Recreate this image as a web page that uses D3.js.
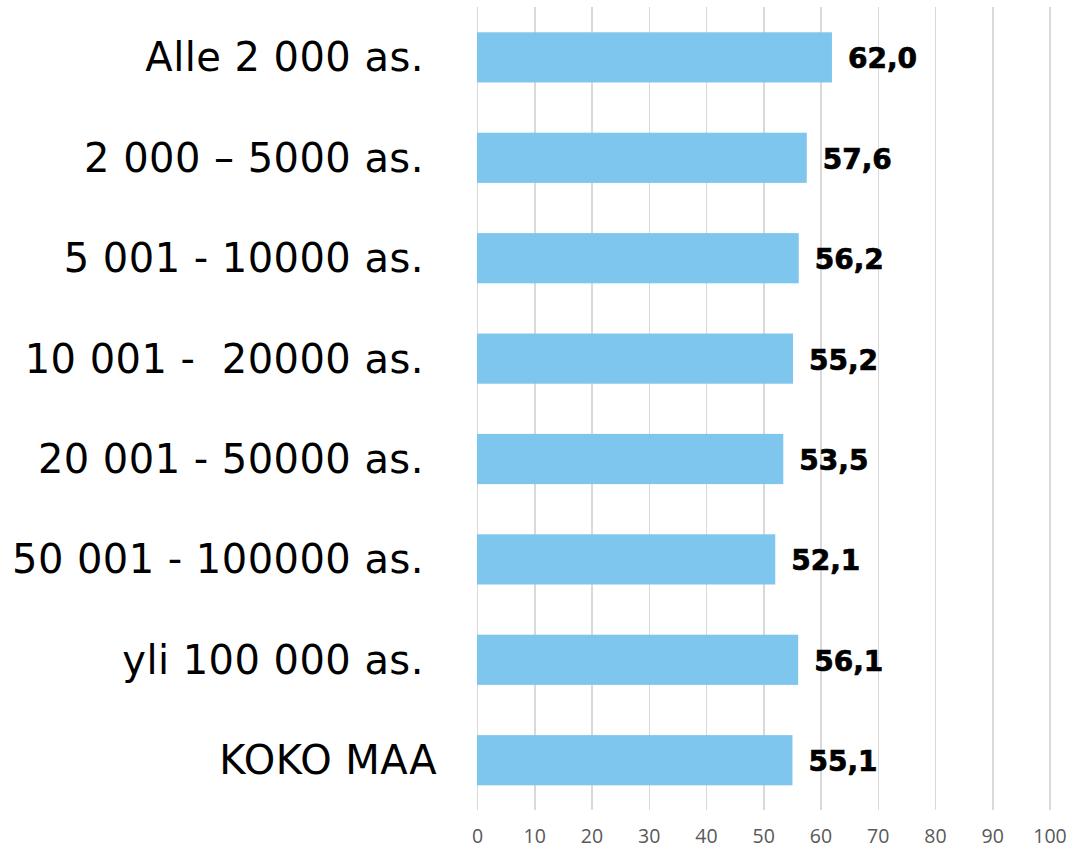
<!DOCTYPE html>
<html lang="fi">
<head>
<meta charset="UTF-8">
<title>Kuntakoko</title>
<script src="https://cdn.jsdelivr.net/npm/d3@7"></script>
<style>
    body { margin: 0; background: #fff; }
    .grid line { stroke: #d9d9d9; stroke-width: 1.5; shape-rendering: crispEdges; }
    .grid text { font-family: "Open Sans", sans-serif; font-size: 19.5px; fill: #595959; }
    .cat { font-family: "DejaVu Sans", sans-serif; font-size: 40px; fill: #000; white-space: pre; letter-spacing: 0.45px; }
    .val { font-family: "DejaVu Sans", sans-serif; font-weight: bold; font-size: 28px; fill: #000; stroke: #000; stroke-width: 0.7px; }
</style>
</head>
<body>
<script>
    var w = 1068;
    var h = 848;

    // luokat ylhaalta alas
    var categories = [
        "Alle 2 000 as. ",
        "2 000 \u2013 5000 as. ",
        "5 001 - 10000 as. ",
        "10 001 -  20000 as. ",
        "20 001 - 50000 as. ",
        "50 001 - 100000 as. ",
        "yli 100 000 as. ",
        "KOKO MAA"
    ];
    var values = [62.0, 57.6, 56.2, 55.2, 53.5, 52.1, 56.1, 55.1];
    var ticks = [0, 10, 20, 30, 40, 50, 60, 70, 80, 90, 100];

    var xScale = d3.scaleLinear()
        .domain([0, 100])
        .range([477, 1049.5]);

    var yScale = d3.scaleBand()
        .domain(categories)
        .range([7.2, 810.4])
        .paddingInner(0.5)
        .paddingOuter(0.25);

    var svg = d3.select("body")
        .append("svg")
        .attr("width", w)
        .attr("height", h);

    var xAxis = d3.axisBottom(xScale)
        .tickValues(ticks)
        .tickSize(-(810.4 - 7.2))
        .tickPadding(19)
        .tickFormat(d3.format("d"));

    svg.append("g")
        .attr("class", "grid")
        .attr("transform", "translate(0,810.4)")
        .call(xAxis)
        .call(function (g) { g.select(".domain").remove(); });

    var data = categories.map(function (c, i) {
        return { cat: c, val: values[i] };
    });

    svg.selectAll("rect.bar")
        .data(data)
        .enter()
        .append("rect")
        .attr("class", "bar")
        .attr("x", xScale(0))
        .attr("y", function (d) { return yScale(d.cat); })
        .attr("width", function (d) { return xScale(d.val) - xScale(0); })
        .attr("height", yScale.bandwidth())
        .attr("fill", "#7fc6ee");

    svg.selectAll("text.val")
        .data(data)
        .enter()
        .append("text")
        .attr("class", "val")
        .attr("x", function (d) { return xScale(d.val) + 16; })
        .attr("y", function (d) { return yScale(d.cat) + yScale.bandwidth() / 2 + 11; })
        .text(function (d) { return d.val.toFixed(1).replace(".", ","); });

    svg.selectAll("text.cat")
        .data(data)
        .enter()
        .append("text")
        .attr("class", "cat")
        .attr("text-anchor", "end")
        .attr("x", 437)
        .attr("y", function (d) { return yScale(d.cat) + yScale.bandwidth() / 2 + 14; })
        .text(function (d) { return d.cat; });
</script>
</body>
</html>
